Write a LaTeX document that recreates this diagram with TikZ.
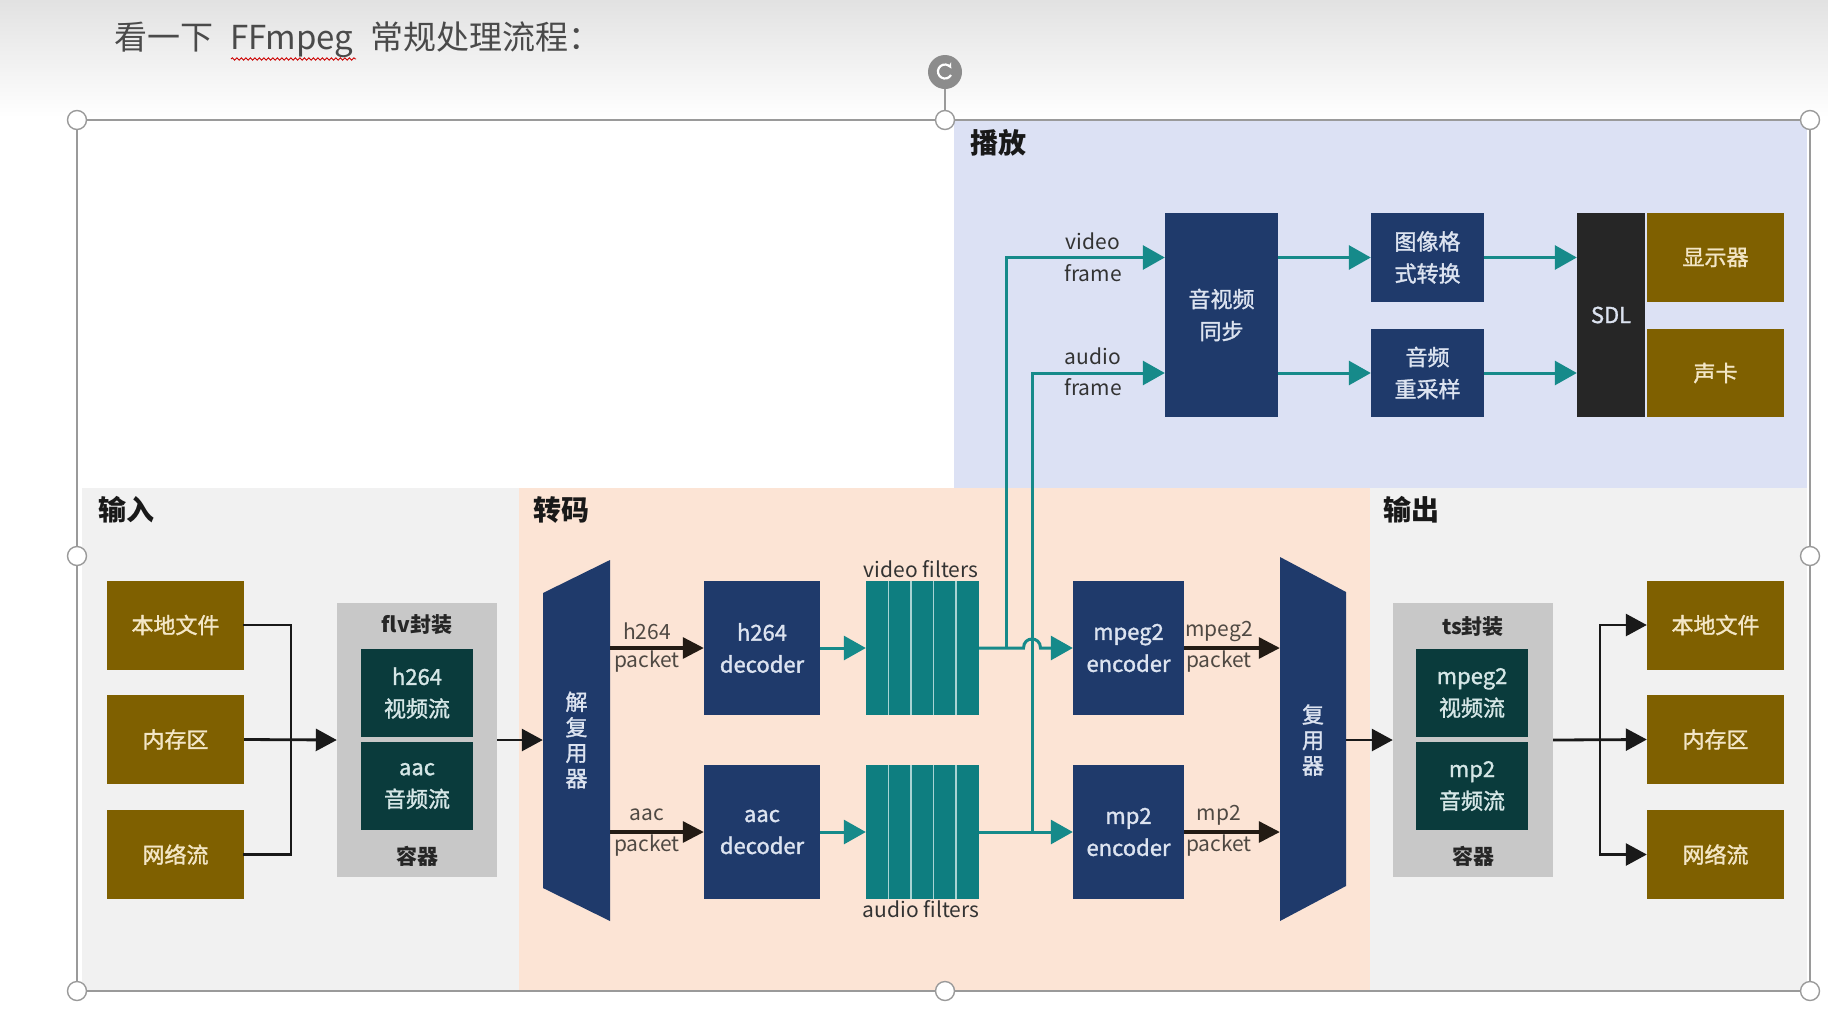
\documentclass[tikz,border=0pt]{standalone}
\usepackage{fontspec}
\setmainfont{Noto Sans CJK SC}
\newfontfamily\medfont{Noto Sans CJK SC}[FakeBold=1.4]
\usetikzlibrary{arrows.meta,decorations.pathmorphing}
\definecolor{gold}{HTML}{7F6000}
\definecolor{goldtext}{HTML}{F3E6C6}
\definecolor{navy}{HTML}{1F3A6B}
\definecolor{navytext}{HTML}{DCE3F0}
\definecolor{dteal}{HTML}{0A3B3C}
\definecolor{dtealtext}{HTML}{D5E6E6}
\definecolor{tfill}{HTML}{0E7E80}
\definecolor{tline}{HTML}{168A8A}
\definecolor{stripe}{HTML}{A8D4D4}
\definecolor{sdlc}{HTML}{262626}
\definecolor{cgray}{HTML}{C8C8C8}
\definecolor{playbg}{HTML}{DCE1F4}
\definecolor{iobg}{HTML}{F1F1F1}
\definecolor{transbg}{HTML}{FCE4D5}
\definecolor{lbltext}{HTML}{333333}
\definecolor{pktc}{HTML}{231B14}
\definecolor{hdrc}{HTML}{4A4A4A}
\definecolor{topgray}{HTML}{E2E2E2}
\definecolor{framec}{HTML}{9A9A9A}
\begin{document}
\begin{tikzpicture}[x=1pt,y=-1pt,
  boxbase/.style={inner sep=0pt, align=center, font=\medfont\fontsize{22}{32}\selectfont},
  goldbox/.style={boxbase, fill=gold, text=goldtext, minimum width=137pt, minimum height=89pt},
  navybox/.style={boxbase, fill=navy, text=navytext, minimum width=113pt, minimum height=134pt},
  innerbox/.style={boxbase, fill=dteal, text=dtealtext, minimum width=112pt, minimum height=88pt},
  contbox/.style={inner sep=0pt, fill=cgray, minimum width=160pt, minimum height=274pt},
  ctitle/.style={inner sep=0pt, font=\bfseries\fontsize{21}{25}\selectfont, text=black!85},
  filtbox/.style={inner sep=0pt, fill=tfill, minimum width=113pt, minimum height=134pt},
  stripeline/.style={stripe, line width=1.5pt},
  lbl/.style={inner sep=0pt, align=center, font=\fontsize{21}{31}\selectfont, text=lbltext},
  title/.style={inner sep=0pt, anchor=west, font=\bfseries\fontsize{28}{30}\selectfont, text=black!90},
  vtext/.style={inner sep=0pt, align=center, text=navytext, font=\medfont\fontsize{22}{25.5}\selectfont},
  conn/.style={line width=2.8pt, black!90, line cap=rect},
  carrow/.style={conn, line cap=butt, -{Triangle[length=21pt,width=22pt]}},
  pkt/.style={line width=3.2pt, pktc, -{Triangle[length=21pt,width=21pt]}},
  tl/.style={line width=3pt, tline},
  tarrow/.style={tl, -{Triangle[length=22pt,width=24pt]}},
  handle/.style={circle, draw=framec, fill=white, line width=1.4pt, minimum size=19pt, inner sep=0pt}
]
\useasboundingbox (0,0) rectangle (1828,1026);
\fill[white] (0,0) rectangle (1828,1026);
\fill[top color=topgray, bottom color=white] (0,0) rectangle (1828,118);

% header
\node[anchor=west, inner sep=0pt, font=\fontsize{33}{38}\selectfont, text=hdrc] (hdr) at (114,40) {看一下\hspace{17pt}FFmpeg\hspace{17pt}常规处理流程：};
\draw[red!80!black, line width=0.9pt, decorate, decoration={snake, amplitude=1.2pt, segment length=4.5pt}] (231,59) -- (356,59);

% regions
\fill[playbg] (954,121) rectangle (1807,488);
\fill[iobg] (82,488) rectangle (519,990);
\fill[transbg] (519,488) rectangle (1370,990);
\fill[iobg] (1370,488) rectangle (1807,990);

\node[title] (tplay) at (970,143) {播放};
\node[title] (tin) at (98,510) {输入};
\node[title] (ttr) at (533,510) {转码};
\node[title] (tout) at (1383,510) {输出};

% input
\node[goldbox] (in1) at (175.5,625) {本地文件};
\node[goldbox] (in2) at (175.5,739.5) {内存区};
\node[goldbox] (in3) at (175.5,854.5) {网络流};

\node[contbox] (flv) at (417,740) {};
\node[ctitle] (flvt) at (417,625) {flv封装};
\node[innerbox] (flvv) at (417,693) {h264\\视频流};
\node[innerbox] (flva) at (417,786) {aac\\音频流};
\node[ctitle] (flvc) at (417,856) {容器};

\coordinate (jin) at (291,739.5);
\draw[conn] (in1.east) -| (jin);
\draw[conn] (in3.east) -| (jin);
\draw[carrow] (in2.east) -- (flv.west);

% demuxer
\fill[navy] (543,593) -- (610,560) -- (610,921) -- (543,888) -- cycle;
\node[vtext, minimum width=67pt, minimum height=200pt] (demux) at (576.5,740) {解\\复\\用\\器};
\draw[carrow] (flv.east) -- (demux.west);

% decoders
\node[navybox, minimum width=116pt] (hdec) at (762,648) {h264\\decoder};
\node[navybox, minimum width=116pt] (adec) at (762,832) {aac\\decoder};
\draw[pkt] (demux.east |- hdec.west) -- (hdec.west);
\draw[pkt] (demux.east |- adec.west) -- (adec.west);
\node[lbl, text=pktc!80] (lh) at (647,631) {h264};
\node[lbl, text=pktc!80] (lhp) at (647,662) {packet};
\node[lbl, text=pktc!80] (la) at (647,815) {aac};
\node[lbl, text=pktc!80] (lap) at (647,846) {packet};

% filters
\node[filtbox] (vf) at (922.5,648) {};
\node[filtbox] (af) at (922.5,832) {};
\foreach \i in {1,...,4} {
  \draw[stripeline] ([xshift=\i*22.6pt]vf.north west) -- ([xshift=\i*22.6pt]vf.south west);
  \draw[stripeline] ([xshift=\i*22.6pt]af.north west) -- ([xshift=\i*22.6pt]af.south west);
}
\node[lbl] (vfl) at (921,569) {video filters};
\node[lbl] (afl) at (921,909) {audio filters};
\draw[tarrow] (hdec.east) -- (vf.west);
\draw[tarrow] (adec.east) -- (af.west);

% encoders
\node[navybox, minimum width=111pt] (enc1) at (1128.5,648) {mpeg2\\encoder};
\node[navybox, minimum width=111pt] (enc2) at (1128.5,832) {mp2\\encoder};

% playback
\node[navybox, minimum height=204pt] (sync) at (1221.5,315) {音视频\\同步};
\node[navybox, minimum height=89pt] (img) at (1427.5,257.5) {图像格\\式转换};
\node[navybox, minimum height=88pt] (res) at (1427.5,373) {音频\\重采样};
\node[boxbase, fill=sdlc, text=navytext, minimum width=68pt, minimum height=204pt] (sdl) at (1611,315) {SDL};
\node[goldbox, minimum height=89pt] (disp) at (1715.5,257.5) {显示器};
\node[goldbox, minimum height=88pt] (snd) at (1715.5,373) {声卡};

\coordinate (vj) at (1006,648);
\coordinate (aj) at (1032,832);
\draw[tarrow] (vf.east) -- ([xshift=-8.5pt]aj |- vf.east) .. controls +(0,-12) and +(0,-12) .. ([xshift=8.5pt]aj |- vf.east) -- (enc1.west);
\draw[tarrow] (af.east) -- (enc2.west);
\draw[tarrow] (vj) |- (sync.west |- img.west);
\draw[tarrow] (aj) |- (sync.west |- res.west);
\node[lbl] (lv1) at (1093,241) {video};
\node[lbl] (lv2) at (1093,273) {frame};
\node[lbl] (la1) at (1093,356) {audio};
\node[lbl] (la2) at (1093,387) {frame};

\draw[tarrow] (sync.east |- img.west) -- (img.west);
\draw[tarrow] (sync.east |- res.west) -- (res.west);
\draw[tarrow] (img.east) -- (sdl.west |- img.east);
\draw[tarrow] (res.east) -- (sdl.west |- res.east);

% muxer
\fill[navy] (1280,557) -- (1346,592) -- (1346,886) -- (1280,921) -- cycle;
\node[vtext, minimum width=66pt, minimum height=200pt] (mux) at (1313,740) {复\\用\\器};
\draw[pkt] (enc1.east) -- (mux.west |- enc1.east);
\draw[pkt] (enc2.east) -- (mux.west |- enc2.east);
\node[lbl, text=pktc!80] (lm1) at (1219,631) {mpeg2};
\node[lbl, text=pktc!80] (lm1p) at (1219,662) {packet};
\node[lbl, text=pktc!80] (lm2) at (1219,815) {mp2};
\node[lbl, text=pktc!80] (lm2p) at (1219,846) {packet};

% output
\node[contbox] (ts) at (1473,740) {};
\node[ctitle] (tst) at (1473,627) {ts封装};
\node[innerbox] (tsv) at (1472,693) {mpeg2\\视频流};
\node[innerbox] (tsa) at (1472,786) {mp2\\音频流};
\node[ctitle] (tsc) at (1473,856) {容器};
\draw[carrow] (mux.east) -- (ts.west);

\node[goldbox] (out1) at (1715.5,625) {本地文件};
\node[goldbox] (out2) at (1715.5,739.5) {内存区};
\node[goldbox] (out3) at (1715.5,854.5) {网络流};
\coordinate (jout) at (1600,739.5);
\draw[carrow] (jout) |- (out1.west);
\draw[carrow] (jout) |- (out3.west);
\draw[carrow] (ts.east) -- (out2.west);

% selection frame and handles
\draw[framec, line width=1.4pt] (77,120) rectangle (1810,991);
\draw[framec, line width=1.4pt] (945,88) -- (945,111);
\node[circle, fill=black!45, minimum size=34pt, inner sep=0pt] (rot) at (945,72) {};
\draw[white, line width=2.2pt, -{Stealth[length=5pt,width=6pt]}] ([shift={(6,3)}]rot.center) arc[start angle=30, end angle=330, radius=7];
\foreach \hx/\hy [count=\k] in {77/120,945/120,1810/120,77/556,1810/556,77/991,945/991,1810/991}
  \node[handle] (h\k) at (\hx,\hy) {};
\end{tikzpicture}
\end{document}
